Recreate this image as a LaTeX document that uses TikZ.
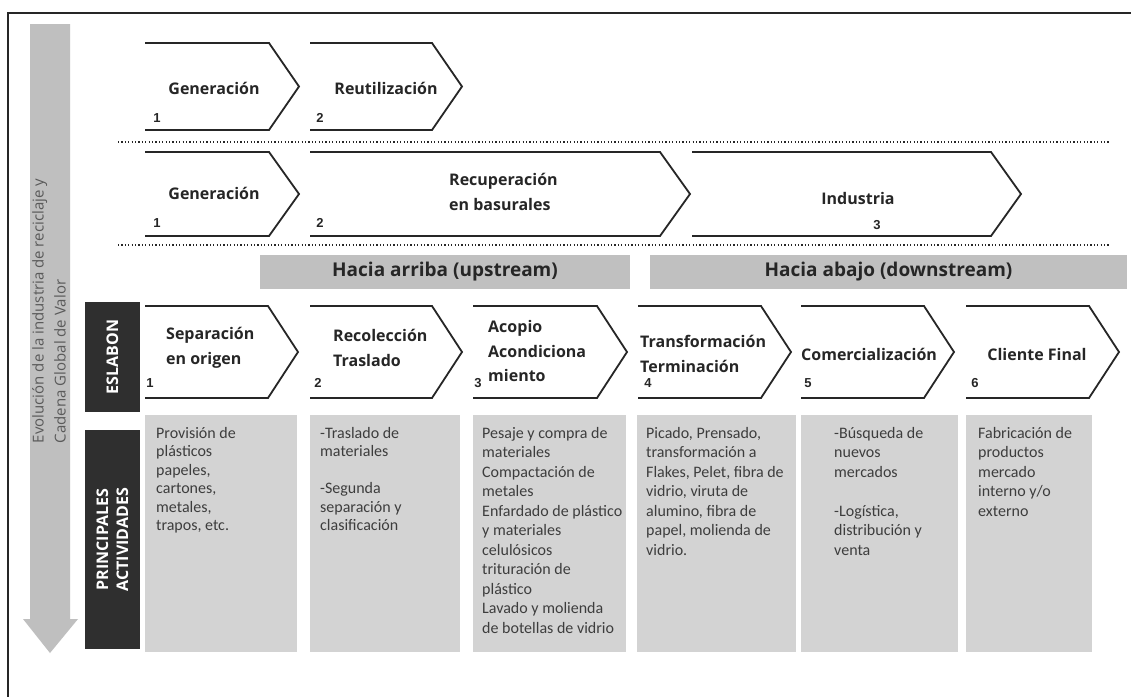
\documentclass[tikz,border=0pt]{standalone}
\usepackage{fontspec}
\setmainfont{Open Sans}
\newfontfamily\actfont{Carlito}
\newfontfamily\numfont{Liberation Sans}
\usetikzlibrary{positioning}

\definecolor{lineclr}{HTML}{262626}
\definecolor{bargray}{HTML}{C0C0C0}
\definecolor{boxgray}{HTML}{D3D3D3}
\definecolor{tabclr}{HTML}{2F2F2F}
\definecolor{actclr}{HTML}{3D3D3D}
\definecolor{sidegray}{HTML}{BFBFBF}
\definecolor{sidetxt}{HTML}{5A5A5A}

\begin{document}
\begin{tikzpicture}[x=1pt,y=-1pt,
    chev/.style={draw=lineclr,line width=1.8pt,line join=miter},
    lbl/.style={font=\bfseries\fontsize{16}{24.5}\selectfont,text=lineclr,inner sep=0pt,align=left},
    num/.style={font=\numfont\bfseries\fontsize{13}{13}\selectfont,text=lineclr,inner sep=0pt},
    hbar/.style={fill=bargray,minimum height=34pt,inner sep=0pt,
        font=\bfseries\fontsize{19}{20}\selectfont,text=lineclr},
    tab/.style={fill=tabclr,rotate=90,inner sep=0pt,align=center,
        font=\bfseries\fontsize{16}{20}\selectfont,text=white},
    act/.style={anchor=north west,inner sep=0pt,align=left,text=actclr,
        font=\actfont\fontsize{16}{19.5}\selectfont},
    sep/.style={draw=lineclr,line width=1.2pt,dash pattern=on 1.2pt off 2.2pt}]
    \useasboundingbox (0,0) rectangle (1131,696);
    \fill[white] (0,0) rectangle (1131,696);
    % marco
    \draw[lineclr,line width=1.6pt] (8,700) -- (8,13) -- (1140,13);
    % flecha lateral
    \fill[sidegray] (30,24) -- (70,24) -- (70,619) -- (78,619) -- (50,653)
        -- (23,619) -- (30,619) -- cycle;
    \node[rotate=90,align=left,text=sidetxt,inner sep=0pt,
        font=\fontsize{15}{22}\selectfont] (evol) at (49,311)
        {Evolución de la industria de reciclaje y\\Cadena Global de Valor};

    % chevrones: izquierda/punta/arriba/abajo
    \foreach \l/\t/\a/\b in {145/299/43/130, 310/462/43/130,
        145/299/152/236, 310/690/152/236, 692/1021/152/236,
        145/298/306/398, 310/462/306/398, 473/627/306/398,
        638/791/306/398, 801/954/306/398, 966/1119/306/398}
        \draw[chev] (\l,\a) -- (\t-30,\a) -- (\t,{(\a+\b)/2}) -- (\t-30,\b) -- (\l,\b);

    \draw[sep] (118,142) -- (1110,142);
    \draw[sep] (118,245) -- (1110,245);

    % fila 1
    \node[lbl] (g_1) at (214,88) {Generación};
    \node[lbl] (r_1) at (386,88) {Reutilización};
    \node[num] (n_11) at (157,118) {1};
    \node[num] (n_12) at (320,118) {2};
    % fila 2
    \node[lbl] (g_2) at (214,193) {Generación};
    \node[lbl,anchor=west] (rec) at (449,192) {Recuperación\\en basurales};
    \node[lbl] (ind) at (858,198) {Industria};
    \node[num] (n_21) at (157,223) {1};
    \node[num] (n_22) at (320,223) {2};
    \node[num] (n_23) at (877,225) {3};

    % barras
    \node[hbar,minimum width=370pt] (up) at (445,272) {Hacia arriba (upstream)};
    \node[hbar,minimum width=477pt] (down) at (888.5,272) {Hacia abajo (downstream)};

    % pestañas
    \node[tab,minimum width=110pt,minimum height=55pt] (esl) at (112.5,357) {ESLABON};
    \node[tab,minimum width=219pt,minimum height=55pt] (prin) at (112.5,539.5)
        {PRINCIPALES\\ACTIVIDADES};

    % eslabones
    \node[lbl,anchor=west] (e_1) at (166,348) {Separación\\en origen};
    \node[lbl,anchor=west] (e_2) at (333,348) {Recolección\\Traslado};
    \node[lbl,anchor=west] (e_3) at (488,351) {Acopio\\Acondiciona\\miento};
    \node[lbl,anchor=west] (e_4) at (640,354) {Transformación\\Terminación};
    \node[lbl,anchor=west] (e_5) at (801,354) {Comercialización};
    \node[lbl] (e_6) at (1037,354) {Cliente Final};
    \foreach \i/\x in {1/150,2/318,3/478,4/648,5/808,6/975}
        \node[num] (m_\i) at (\x,383) {\i};

    % actividades
    \foreach \l/\r in {145/297, 310/460, 473/626, 637/796, 801/958, 966/1092}
        \fill[boxgray] (\l,415) rectangle (\r,652);
    \node[act,font=\actfont\fontsize{16}{18.5}\selectfont] (a_1) at (156,427)
        {Provisión de\\plásticos\\papeles,\\cartones,\\metales,\\trapos, etc.};
    \node[act,font=\actfont\fontsize{16}{18.5}\selectfont] (a_2) at (320,427)
        {-Traslado de\\materiales\\\mbox{}\\-Segunda\\separación y\\clasificación};
    \node[act] (a_3) at (482,427)
        {Pesaje y compra de\\materiales\\Compactación de\\metales\\Enfardado de plástico\\y materiales\\celulósicos\\trituración de\\plástico\\Lavado y molienda\\de botellas de vidrio};
    \node[act] (a_4) at (646,427)
        {Picado, Prensado,\\transformación a\\Flakes, Pelet, fibra de\\vidrio, viruta de\\alumino, fibra de\\papel, molienda de\\vidrio.};
    \node[act] (a_5) at (834,427)
        {-Búsqueda de\\nuevos\\mercados\\\mbox{}\\-Logística,\\distribución y\\venta};
    \node[act] (a_6) at (978,427)
        {Fabricación de\\productos\\mercado\\interno y/o\\externo};
\end{tikzpicture}
\end{document}
